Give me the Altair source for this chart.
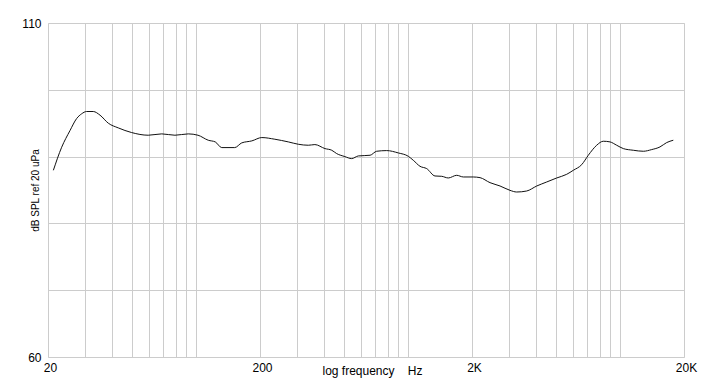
import altair as alt
import pandas as pd

# Frequency response
freq_hz = [21.2, 23.2, 25.4, 27.3, 28.8, 30.4, 32.7, 35.2, 38.5, 42.9, 49.6, 59.4,
           68.8, 79.4, 91.8, 102, 114, 123, 132, 152, 164, 183, 204, 235, 272, 303,
           338, 363, 405, 436, 460, 503, 541, 582, 661, 710, 792, 898, 1001, 1057,
           1137, 1223, 1338, 1439, 1546, 1694, 1820, 2028, 2182, 2432, 2712, 3022,
           3250, 3622, 4040, 4502, 5018, 5594, 6010, 6586, 7074, 7748, 8324, 8952,
           9628, 10346, 11532, 12854, 14082, 15410, 16570, 17806]
spl_db = [87.95, 91.4, 93.9, 95.7, 96.4, 96.75, 96.75, 96.2, 95.0, 94.3, 93.6, 93.2,
          93.4, 93.2, 93.4, 93.2, 92.45, 92.2, 91.35, 91.35, 92.05, 92.35, 92.85, 92.6,
          92.2, 91.85, 91.7, 91.8, 91.2, 90.95, 90.45, 90.0, 89.7, 90.1, 90.2, 90.8,
          90.9, 90.55, 90.05, 89.45, 88.55, 88.2, 87.1, 87.05, 86.8, 87.2, 86.95, 86.95,
          86.85, 86.1, 85.6, 84.95, 84.7, 84.85, 85.6, 86.2, 86.8, 87.35, 87.95, 88.8,
          90.2, 91.7, 92.3, 92.2, 91.7, 91.2, 90.95, 90.8, 91.05, 91.45, 92.1, 92.45]

x_ticks = [20, 30, 40, 50, 60, 70, 80, 90, 100, 200, 300, 400, 500, 600, 700, 800, 900,
           1000, 2000, 3000, 4000, 5000, 6000, 7000, 8000, 9000, 10000, 20000]
x_labels = {20: "20", 200: "200", 2000: "2K", 20000: "20K"}
y_ticks = [60, 70, 80, 90, 100, 110]
y_labels = [60, 110]

df = pd.DataFrame({"f": freq_hz, "db": spl_db})

x_expr = "".join(f"datum.value == {k} ? '{v}' : " for k, v in x_labels.items()) + "''"
y_expr = " || ".join(f"datum.value == {v}" for v in y_labels) + " ? datum.label : ''"

FONT = "Liberation Sans"

chart = alt.Chart(df).mark_line(color="#111111", strokeWidth=1, interpolate="monotone").encode(
    x=alt.X("f:Q",
            scale=alt.Scale(type="log", domain=[20, 20000], nice=False),
            axis=alt.Axis(values=x_ticks, labelExpr=x_expr, title="log frequency\u00a0\u00a0\u00a0\u00a0Hz",
                          grid=True, gridColor="#cccccc", gridWidth=1, ticks=False, domain=False,
                          labelFlush=False, labelPadding=5, labelOffset=2, labelFont=FONT, labelFontSize=12,
                          labelColor="#000000", labelOverlap=False,
                          titleFont=FONT, titleFontSize=12, titleFontWeight="normal", titleColor="#000000",
                          titleX=324, titleY=13, titleBaseline="middle", titleAlign="center")),
    y=alt.Y("db:Q",
            scale=alt.Scale(domain=[60, 110], nice=False, zero=False),
            axis=alt.Axis(values=y_ticks, labelExpr=y_expr, title="dB SPL ref 20 uPa",
                          grid=True, gridColor="#cccccc", gridWidth=1, ticks=False, domain=False,
                          labelFlush=False, labelPadding=7, labelFont=FONT, labelFontSize=12,
                          labelColor="#000000", labelBaseline="middle",
                          titleFont=FONT, titleFontSize=10, titleFontWeight="normal", titleColor="#000000",
                          titleAngle=270, titleX=-13, titleY=167, titleBaseline="middle", titleAlign="center")),
).properties(
    width=636, height=334,
    autosize=alt.AutoSizeParams(type="none"),
    padding={"left": 40, "top": 15, "right": 16, "bottom": 23},
).configure_view(stroke="transparent").configure(background="white")

chart.save("out.html", embed_options={"renderer": "svg", "actions": False})
